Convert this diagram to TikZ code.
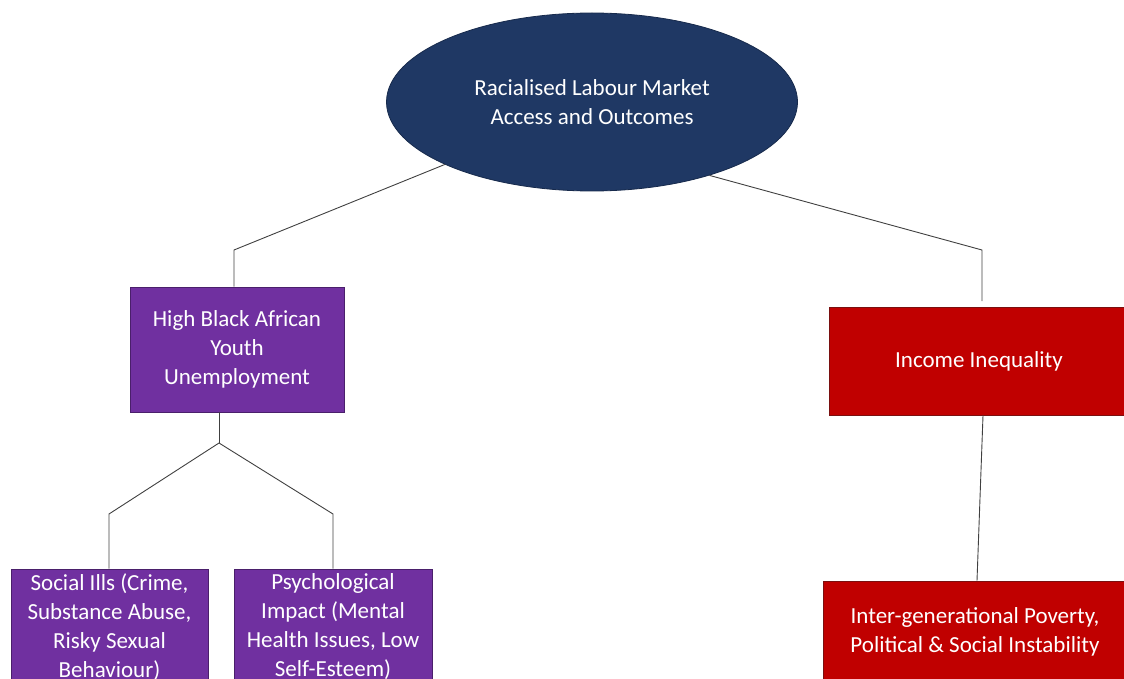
\documentclass[tikz,border=0pt]{standalone}
\usepackage{fontspec}
\setmainfont{Carlito}
\usetikzlibrary{shapes.geometric}
\definecolor{navy}{HTML}{1F3864}
\definecolor{navyedge}{HTML}{172A4C}
\definecolor{purp}{HTML}{7030A0}
\definecolor{purpedge}{HTML}{4A1F6B}
\definecolor{redbox}{HTML}{C00000}
\definecolor{rededge}{HTML}{7A1010}
\definecolor{linecol}{HTML}{404040}
\tikzset{
  txt/.style={text=white, font=\fontsize{23}{29}\selectfont, align=center, inner sep=0pt},
  purplebox/.style={txt, rectangle, fill=purp, draw=purpedge, line width=0.8pt},
  redrect/.style={txt, rectangle, fill=redbox, draw=rededge, line width=0.8pt},
  conn/.style={draw=linecol, line width=0.9pt},
}
\begin{document}
\begin{tikzpicture}[x=1pt,y=-1pt]
\useasboundingbox (0,0) rectangle (1124,679);
\clip (0,0) rectangle (1124,679);
\node[txt, ellipse, fill=navy, draw=navyedge, line width=0.8pt, minimum width=411pt, minimum height=178pt] (root) at (592,102) {Racialised Labour Market\\Access and Outcomes};
\node[purplebox, minimum width=214pt, minimum height=125pt] (youth) at (237,349.5) {High Black African\\Youth\\Unemployment};
\node[redrect, minimum width=300pt, minimum height=108pt] (income) at (979,361) {Income Inequality};
\node[purplebox, minimum width=197pt, minimum height=116pt] (ills) at (109.5,627) {Social Ills (Crime,\\Substance Abuse,\\Risky Sexual\\Behaviour)};
\node[purplebox, minimum width=198pt, minimum height=116pt] (psych) at (333,627) {Psychological\\Impact (Mental\\Health Issues, Low\\Self-Esteem)};
\node[redrect, minimum width=304pt, minimum height=102pt] (pov) at (975,632) {Inter-generational Poverty,\\Political \& Social Instability};
\coordinate (lb) at (234,250);
\coordinate (rb) at (982,250);
\coordinate (ry) at (982,301);
\coordinate (yb) at (219,443);
\coordinate (lk) at (109,514);
\coordinate (rk) at (333,514);
\draw[conn] (root.203.5) -- (lb) -- (lb |- youth.north);
\draw[conn] (root.328) -- (rb) -- (ry);
\draw[conn] (yb |- youth.south) -- (yb);
\draw[conn] (yb) -- (lk) -- (lk |- ills.north);
\draw[conn] (yb) -- (rk) -- (rk |- psych.north);
\draw[conn] (983,415) coordinate (it) (income.south -| it) -- (pov.north -| 977,0);
\end{tikzpicture}
\end{document}
